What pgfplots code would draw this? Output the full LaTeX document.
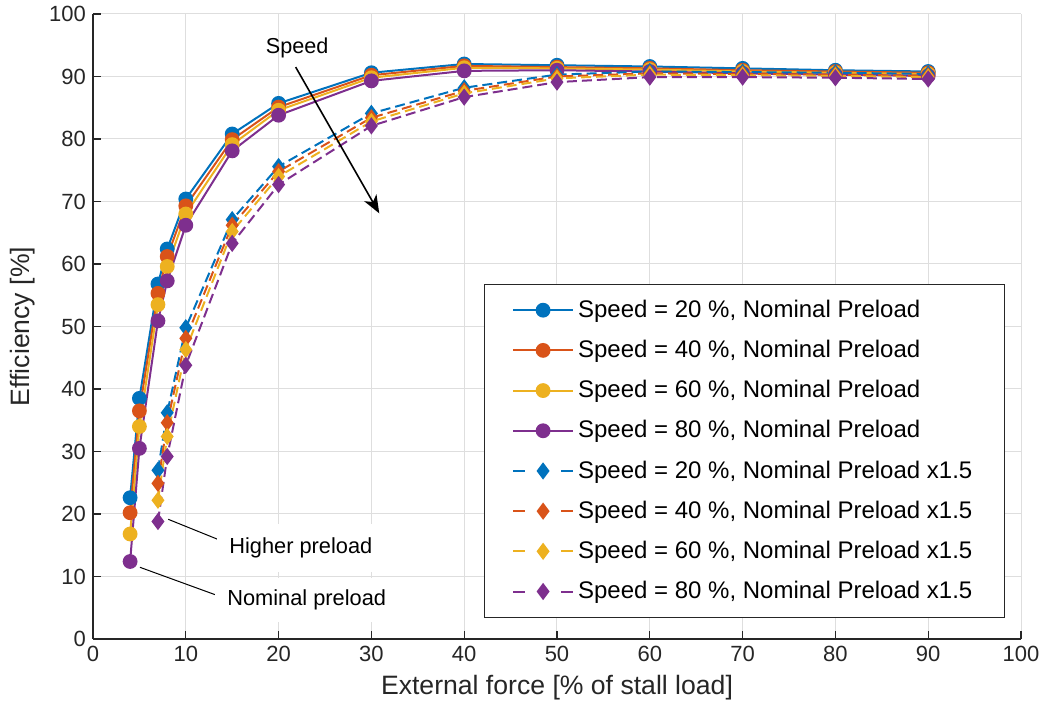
\documentclass[border=0pt]{standalone}
\usepackage{pgfplots}
\pgfplotsset{compat=1.18}
\usepackage{fontspec}
\setmainfont{Liberation Sans}
\usetikzlibrary{arrows.meta}
\definecolor{c1}{rgb}{0,0.447,0.741}
\definecolor{c2}{rgb}{0.85,0.325,0.098}
\definecolor{c3}{rgb}{0.929,0.694,0.125}
\definecolor{c4}{rgb}{0.494,0.184,0.556}
\definecolor{axc}{gray}{0.15}
\begin{document}
\begin{tikzpicture}
\begin{axis}[
 scale only axis, width=464pt, height=312.5pt,
 xmin=0, xmax=100, ymin=0, ymax=100,
 xtick={0,10,...,100}, ytick={0,10,...,100},
 axis x line*=bottom, axis y line*=left,
 axis line style={draw=axc, line width=0.6pt},
 tick style={draw=axc, line width=0.6pt},
 tick align=inside, major tick length=4pt,
 grid=major, grid style={draw=black!13, line width=0.5pt},
 tick label style={font=\fontsize{11}{13}\selectfont, text=axc},
 /pgf/number format/assume math mode=true,
 xlabel={External force [\% of stall load]},
 ylabel={Efficiency [\%]},
 label style={font=\fontsize{13.3}{15}\selectfont, text=axc},
 legend cell align=left,
 legend style={at={(rel axis cs:0.421,0.568)}, anchor=north west,
   font=\fontsize{12}{14}\selectfont, draw=axc, row sep=5.9pt,
   inner xsep=14pt, inner ysep=5.8pt},
 legend image code/.code={\draw[mark repeat=2,mark phase=2,#1] plot coordinates {(0pt,0pt) (15pt,0pt) (30pt,0pt)};},
 every axis plot/.append style={line width=1pt},
 nom/.style={solid, mark=*, mark size=3.2pt, mark options={solid}},
 hig/.style={dash pattern=on 5pt off 2.5pt, mark=diamond*, mark size=3.5pt, mark options={solid},
   legend image code/.code={\draw[##1,solid] (0pt,0pt)--(6pt,0pt) (24pt,0pt)--(30pt,0pt); \draw[##1,solid,only marks] plot coordinates {(15pt,0pt)};}},
]
\coordinate (sw) at (rel axis cs:0,0);
\coordinate (ne) at (rel axis cs:1,1);
% Nominal preload
\addplot[nom, color=c1] coordinates {(4,22.6)(5,38.5)(7,56.8)(8,62.4)(10,70.4)(15,80.8)(20,85.7)(30,90.6)(40,92.0)(50,91.8)(60,91.6)(70,91.3)(80,91.0)(90,90.8)};
\addlegendentry{Speed = 20 \%, Nominal Preload}
\addplot[nom, color=c2] coordinates {(4,20.2)(5,36.5)(7,55.3)(8,61.2)(10,69.3)(15,79.9)(20,85.1)(30,90.2)(40,91.7)(50,91.5)(60,91.3)(70,91.0)(80,90.8)(90,90.6)};
\addlegendentry{Speed = 40 \%, Nominal Preload}
\addplot[nom, color=c3] coordinates {(4,16.8)(5,34.0)(7,53.5)(8,59.6)(10,68.0)(15,79.1)(20,84.6)(30,89.8)(40,91.4)(50,91.3)(60,91.1)(70,90.8)(80,90.6)(90,90.4)};
\addlegendentry{Speed = 60 \%, Nominal Preload}
\addplot[nom, color=c4] coordinates {(4,12.4)(5,30.5)(7,50.9)(8,57.3)(10,66.2)(15,78.1)(20,83.8)(30,89.3)(40,90.9)(50,91.0)(60,90.8)(70,90.5)(80,90.3)(90,90.1)};
\addlegendentry{Speed = 80 \%, Nominal Preload}
% Higher preload
\addplot[hig, color=c1] coordinates {(7,27.0)(8,36.2)(10,49.8)(15,67.1)(20,75.6)(30,84.1)(40,88.2)(50,90.3)(60,90.8)(70,90.7)(80,90.6)(90,90.4)};
\addlegendentry{Speed = 20 \%, Nominal Preload x1.5}
\addplot[hig, color=c2] coordinates {(7,24.9)(8,34.6)(10,48.1)(15,66.2)(20,74.8)(30,83.4)(40,87.7)(50,90.0)(60,90.5)(70,90.4)(80,90.3)(90,90.1)};
\addlegendentry{Speed = 40 \%, Nominal Preload x1.5}
\addplot[hig, color=c3] coordinates {(7,22.2)(8,32.4)(10,46.3)(15,65.2)(20,74.0)(30,82.8)(40,87.3)(50,89.7)(60,90.3)(70,90.2)(80,90.1)(90,89.9)};
\addlegendentry{Speed = 60 \%, Nominal Preload x1.5}
\addplot[hig, color=c4] coordinates {(7,18.8)(8,29.2)(10,43.8)(15,63.3)(20,72.7)(30,82.1)(40,86.7)(50,89.1)(60,89.9)(70,89.9)(80,89.8)(90,89.6)};
\addlegendentry{Speed = 80 \%, Nominal Preload x1.5}
% annotations
\node[font=\fontsize{10.8}{12}\selectfont, text=black] at (axis cs:22.0,94.5) {Speed};
\draw[-{Stealth[length=9pt,width=7pt,inset=2.5pt]}, line width=0.8pt, black] (axis cs:21.84,91.5) -- (axis cs:30.85,68.1);
\draw[black, line width=0.5pt] (axis cs:8.11,19.15) -- (axis cs:13.44,15.95);
\draw[black, line width=0.5pt] (axis cs:5.06,11.47) -- (axis cs:13.25,7.04);
\node[fill=white, inner xsep=6pt, inner ysep=7pt, font=\fontsize{10.9}{12}\selectfont, text=black] at (axis cs:22.4,14.6) {Higher preload};
\node[fill=white, inner xsep=6pt, inner ysep=6pt, font=\fontsize{10.9}{12}\selectfont, text=black] at (axis cs:23.03,6.24) {Nominal preload};
\end{axis}
\pgfresetboundingbox
\path[use as bounding box] ([xshift=-46.5pt,yshift=-39pt]sw) rectangle ([xshift=15pt,yshift=7pt]ne);
\end{tikzpicture}
\end{document}
